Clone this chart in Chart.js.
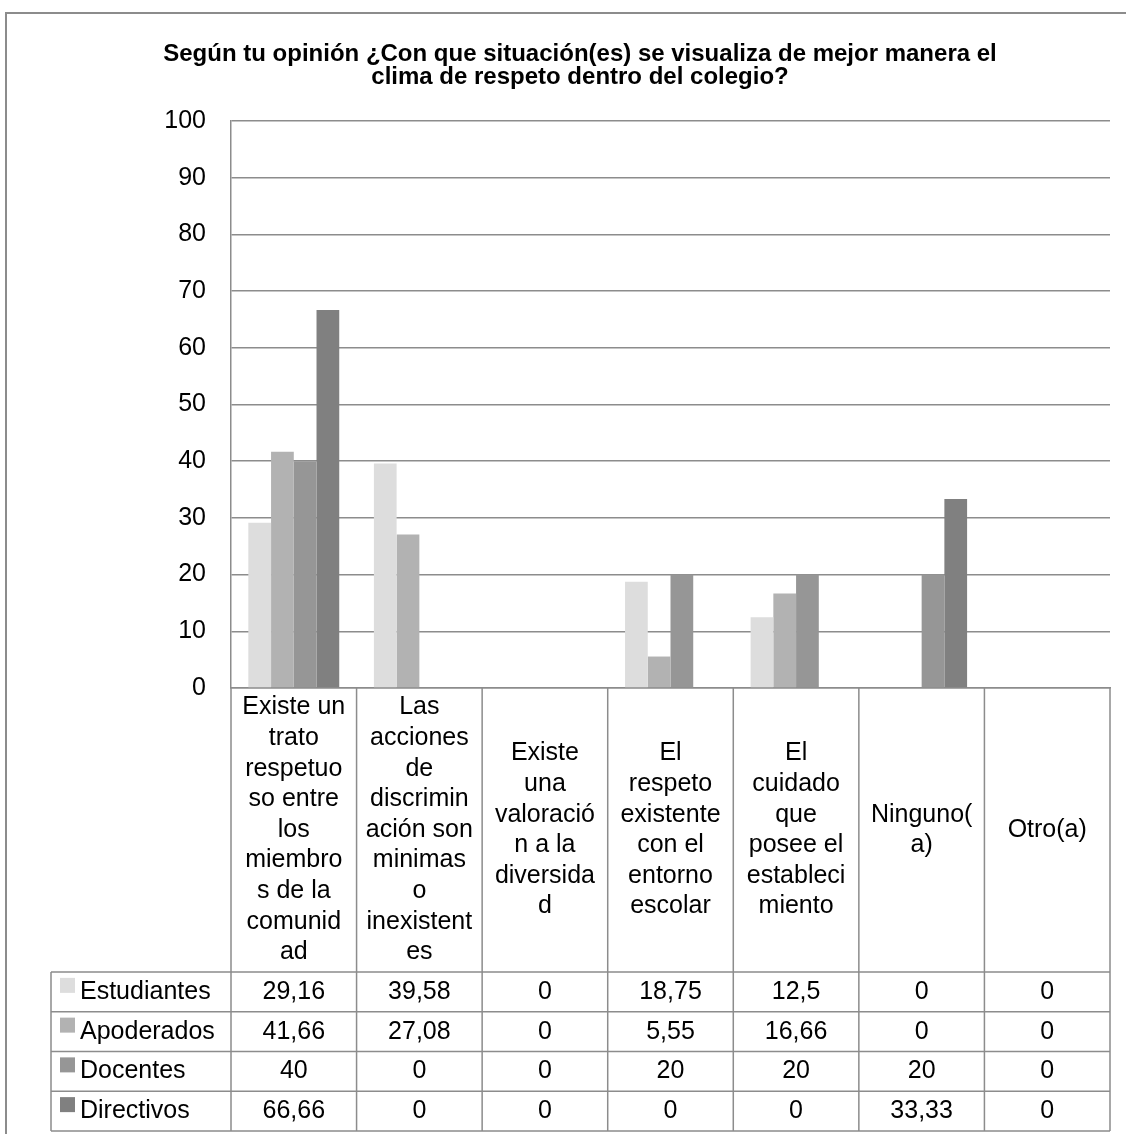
<!DOCTYPE html>
<html>
<head>
<meta charset="utf-8">
<script src="https://cdn.jsdelivr.net/npm/chart.js@4.4.0/dist/chart.umd.min.js"></script>
<style>
  html, body { margin: 0; padding: 0; background: #fff; }
  canvas { display: block; }
</style>
</head>
<body>
<canvas id="chart" width="1126" height="1134"></canvas>
<script>
// Data
const categories = [
  "Existe un trato respetuoso entre los miembros de la comunidad",
  "Las acciones de discriminación son minimas o inexistentes",
  "Existe una valoración a la diversidad",
  "El respeto existente con el entorno escolar",
  "El cuidado que posee el establecimiento",
  "Ninguno(a)",
  "Otro(a)"
]
const estudiantes = [29.16, 39.58, 0, 18.75, 12.5, 0, 0]
const apoderados = [41.66, 27.08, 0, 5.55, 16.66, 0, 0]
const docentes = [40, 0, 0, 20, 20, 20, 0]
const directivos = [66.66, 0, 0, 0, 0, 33.33, 0]
const seriesNames = ["Estudiantes", "Apoderados", "Docentes", "Directivos"]
const seriesColors = ["#dddddd", "#b2b2b2", "#969696", "#808080"]
const yTicks = [0, 10, 20, 30, 40, 50, 60, 70, 80, 90, 100]
const titleLines = [
  "Según tu opinión ¿Con que situación(es) se visualiza de mejor manera el",
  "clima de respeto dentro del colegio?"
]

const FONT = '"Liberation Sans", Arial, sans-serif'
const LINE = "#8c8c8c"
const seriesData = [estudiantes, apoderados, docentes, directivos]

// Excel-like wrapping: break at spaces, split words that are too long
function wrapLabel(ctx, text, maxW) {
  const lines = []
  let line = ""
  for (const w of text.split(" ")) {
    const test = line ? line + " " + w : w
    if (ctx.measureText(test).width <= maxW) {
      line = test
      continue
    }
    if (line) lines.push(line)
    let rest = w
    while (ctx.measureText(rest).width > maxW) {
      let n = rest.length
      while (n > 1 && ctx.measureText(rest.slice(0, n)).width > maxW) n--
      lines.push(rest.slice(0, n))
      rest = rest.slice(n)
    }
    line = rest
  }
  if (line) lines.push(line)
  return lines
}

const fmt = (v) => String(v).replace(".", ",")

// Outer frame
const framePlugin = {
  id: "frame",
  beforeDraw(chart) {
    const { ctx } = chart
    ctx.save()
    ctx.fillStyle = "#fff"
    ctx.fillRect(0, 0, chart.width, chart.height)
    ctx.strokeStyle = LINE
    ctx.lineWidth = 2
    ctx.strokeRect(6, 13, 1200, 1200)
    ctx.restore()
  }
}

// Data table under the plot
const tablePlugin = {
  id: "dataTable",
  afterDraw(chart) {
    const { ctx, chartArea } = chart
    const x = chart.scales.x
    const step = x.width / categories.length
    const edges = categories.map((_, i) => x.left + i * step).concat([x.right])
    const labelTop = chartArea.bottom
    const labelBottom = 972
    const rowH = 39.75
    const tableLeft = 51
    const tableBottom = labelBottom + rowH * seriesNames.length

    ctx.save()
    ctx.strokeStyle = LINE
    ctx.lineWidth = 1.5
    ctx.beginPath()
    edges.forEach((ex) => {
      ctx.moveTo(ex, labelTop)
      ctx.lineTo(ex, tableBottom)
    })
    ctx.moveTo(tableLeft, labelBottom)
    ctx.lineTo(tableLeft, tableBottom)
    for (let r = 0; r <= seriesNames.length; r++) {
      const y = labelBottom + r * rowH
      ctx.moveTo(tableLeft, y)
      ctx.lineTo(x.right, y)
    }
    ctx.stroke()

    ctx.font = "25px " + FONT
    ctx.fillStyle = "#000"
    ctx.textAlign = "center"
    ctx.textBaseline = "middle"

    // category labels
    const lineH = 30.6
    const midY = (labelTop + labelBottom) / 2
    categories.forEach((label, i) => {
      const lines = wrapLabel(ctx, label, 107.7)
      const cx = (edges[i] + edges[i + 1]) / 2
      const y0 = midY - ((lines.length - 1) * lineH) / 2
      lines.forEach((t, k) => ctx.fillText(t, cx, y0 + k * lineH))
    })

    // series rows
    seriesNames.forEach((name, r) => {
      const yc = labelBottom + r * rowH + rowH / 2
      ctx.fillStyle = seriesColors[r]
      ctx.fillRect(60, yc - 14, 15, 15)
      ctx.fillStyle = "#000"
      ctx.textAlign = "left"
      ctx.fillText(name, 80, yc)
      ctx.textAlign = "center"
      seriesData[r].forEach((v, i) => {
        ctx.fillText(fmt(v), (edges[i] + edges[i + 1]) / 2, yc)
      })
    })
    ctx.restore()
  }
}

new Chart(document.getElementById("chart"), {
  type: "bar",
  data: {
    labels: categories,
    datasets: seriesNames.map((name, i) => ({
      label: name,
      data: seriesData[i],
      backgroundColor: seriesColors[i],
      borderWidth: 0,
      categoryPercentage: 0.724,
      barPercentage: 1
    }))
  },
  options: {
    responsive: false,
    animation: false,
    layout: {
      padding: { top: 0, left: 50, right: 16, bottom: 446 }
    },
    plugins: {
      legend: { display: false },
      tooltip: { enabled: false },
      title: {
        display: true,
        text: titleLines,
        color: "#000",
        font: { family: FONT, size: 24, weight: "bold", lineHeight: "23px" },
        padding: { top: 42.5, bottom: 32.5 }
      }
    },
    scales: {
      x: {
        ticks: { display: false },
        grid: { display: false, drawTicks: false },
        border: { display: true, color: LINE, width: 1.5 },
        afterFit: (s) => { s.height = 0 }
      },
      y: {
        min: 0,
        max: 100,
        afterBuildTicks: (s) => { s.ticks = yTicks.map((v) => ({ value: v })) },
        ticks: {
          color: "#000",
          padding: 25,
          font: { family: FONT, size: 25 }
        },
        grid: { color: LINE, lineWidth: 1.5, drawTicks: false },
        border: { display: true, color: LINE, width: 1.5 },
        afterFit: (s) => { s.width = 181 }
      }
    }
  },
  plugins: [framePlugin, tablePlugin]
})
</script>
</body>
</html>
